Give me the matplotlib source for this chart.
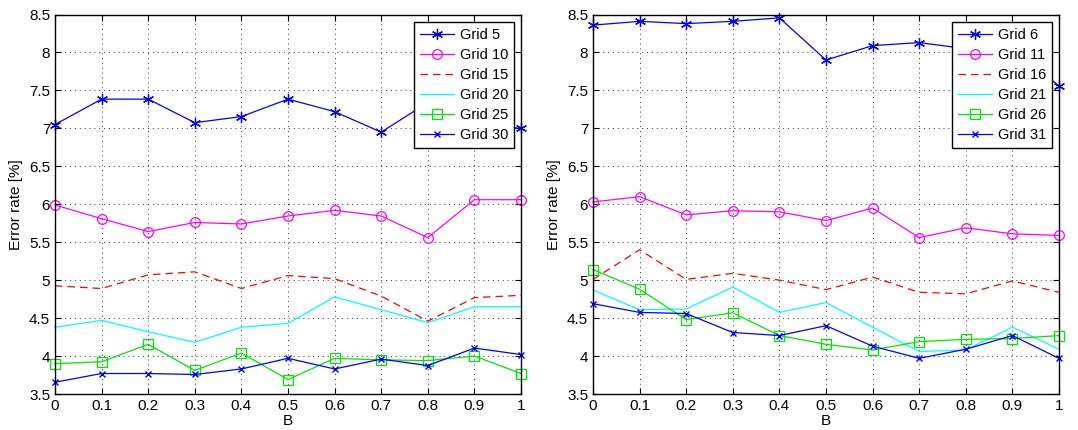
import matplotlib
matplotlib.use("Agg")
import matplotlib.pyplot as plt
from matplotlib.ticker import FuncFormatter

plt.rcParams['font.family'] = ['Liberation Sans', 'DejaVu Sans']

B = [0, 0.1, 0.2, 0.3, 0.4, 0.5, 0.6, 0.7, 0.8, 0.9, 1.0]

# Left panel
left_labels = ["Grid 5", "Grid 10", "Grid 15", "Grid 20", "Grid 25", "Grid 30"]
grid5 = [7.05, 7.385, 7.385, 7.075, 7.155, 7.385, 7.22, 6.95, 7.34, 7.05, 7.0]
grid10 = [5.99, 5.81, 5.64, 5.76, 5.74, 5.845, 5.92, 5.845, 5.56, 6.06, 6.06]
grid15 = [4.925, 4.89, 5.07, 5.11, 4.89, 5.06, 5.02, 4.79, 4.46, 4.77, 4.80]
grid20 = [4.38, 4.47, 4.32, 4.18, 4.38, 4.43, 4.78, 4.61, 4.44, 4.65, 4.65]
grid25 = [3.90, 3.925, 4.155, 3.81, 4.04, 3.69, 3.97, 3.95, 3.94, 4.0, 3.77]
grid30 = [3.655, 3.77, 3.77, 3.757, 3.83, 3.97, 3.83, 3.96, 3.875, 4.105, 4.02]

# Right panel
right_labels = ["Grid 6", "Grid 11", "Grid 16", "Grid 21", "Grid 26", "Grid 31"]
grid6 = [8.36, 8.41, 8.38, 8.41, 8.456, 7.90, 8.09, 8.13, 8.05, 8.05, 7.56]
grid11 = [6.03, 6.10, 5.86, 5.915, 5.90, 5.785, 5.95, 5.56, 5.69, 5.61, 5.59]
grid16 = [5.01, 5.40, 5.01, 5.09, 5.0, 4.875, 5.04, 4.84, 4.82, 4.99, 4.84]
grid21 = [4.87, 4.61, 4.62, 4.91, 4.575, 4.705, 4.38, 4.06, 4.08, 4.38, 4.09]
grid26 = [5.14, 4.88, 4.48, 4.57, 4.27, 4.155, 4.08, 4.19, 4.22, 4.23, 4.27]
grid31 = [4.69, 4.575, 4.56, 4.31, 4.27, 4.40, 4.13, 3.97, 4.09, 4.27, 3.97]

styles = [
    dict(color=(0, 0, 1), linestyle='-', marker=(6, 2, 0), markersize=8, markeredgewidth=0.9),
    dict(color=(1, 0, 1), linestyle='-', marker='o', markersize=7, markerfacecolor='none', markeredgewidth=0.9),
    dict(color=(1, 0, 0), linestyle=(0, (6, 4)), marker=None),
    dict(color=(0, 1, 1), linestyle='-', marker=None),
    dict(color=(0, 0.9, 0), linestyle='-', marker='s', markersize=7, markerfacecolor='none', markeredgewidth=0.9),
    dict(color=(0, 0, 1), linestyle='-', marker='x', markersize=4, markeredgewidth=1.0),
]

fig = plt.figure(figsize=(10.78, 4.30), dpi=100)
ax1 = fig.add_axes([55 / 1078, 36 / 430, 466 / 1078, 379.5 / 430])
ax2 = fig.add_axes([593 / 1078, 36 / 430, 466 / 1078, 379.5 / 430])

fmt = FuncFormatter(lambda v, p: ('%g' % round(v, 2)))

for ax, series, labels in [
    (ax1, [grid5, grid10, grid15, grid20, grid25, grid30], left_labels),
    (ax2, [grid6, grid11, grid16, grid21, grid26, grid31], right_labels),
]:
    for ys, lab, st in zip(series, labels, styles):
        ax.plot(B, ys, label=lab, linewidth=0.9, clip_on=False, **st)
    ax.set_xlim(0, 1)
    ax.set_ylim(3.5, 8.5)
    ax.set_xticks(B)
    ax.set_yticks([3.5, 4, 4.5, 5, 5.5, 6, 6.5, 7, 7.5, 8, 8.5])
    ax.xaxis.set_major_formatter(fmt)
    ax.yaxis.set_major_formatter(fmt)
    ax.tick_params(direction='in', top=True, right=True, labelsize=11, length=4, width=0.8)
    ax.grid(True, linestyle=(0, (1, 4)), color='black', linewidth=0.7, alpha=0.8)
    for sp in ax.spines.values():
        sp.set_linewidth(1.0)
    ax.set_xlabel("B", fontsize=11, labelpad=1)
    ax.set_ylabel("Error rate [%]", fontsize=11, labelpad=4)
    leg = ax.legend(loc='upper right', fontsize=10.5, frameon=True, fancybox=False,
                    edgecolor='black', framealpha=1.0, handlelength=2.3,
                    borderaxespad=0.5, labelspacing=0.42, handletextpad=0.4,
                    borderpad=0.4)
    leg.get_frame().set_linewidth(1.0)
    leg.set_zorder(10)

fig.savefig("out.png", dpi=100)
